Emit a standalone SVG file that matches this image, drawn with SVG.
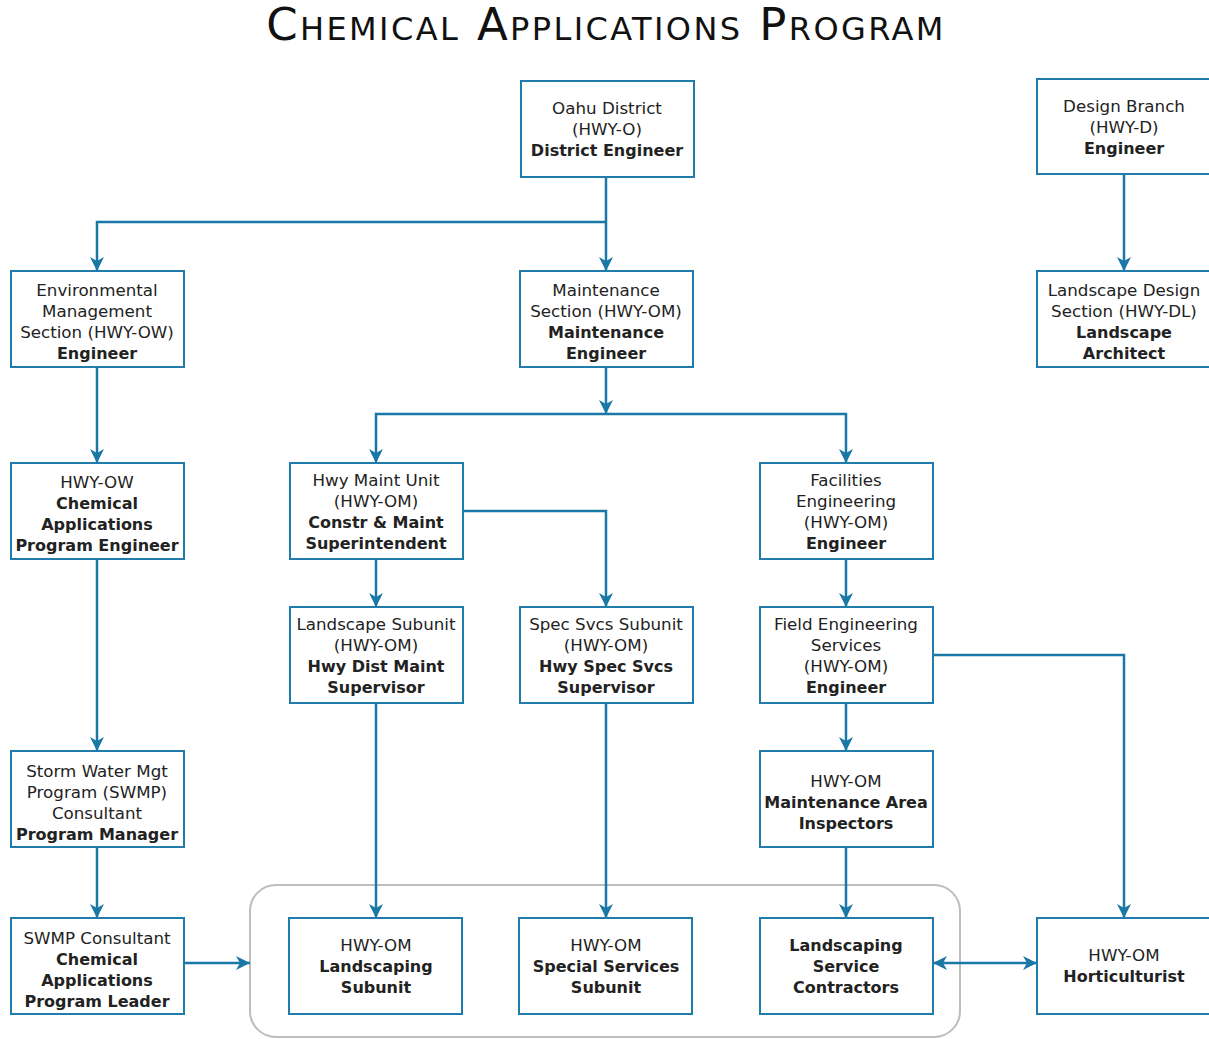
<svg xmlns="http://www.w3.org/2000/svg" width="1209" height="1039" viewBox="0 0 1209 1039">
<style>
.box{fill:#fff;stroke:#1f7cab;stroke-width:2}
.t{font-family:"DejaVu Sans","Liberation Sans",sans-serif;font-size:16.7px;fill:#222;text-anchor:middle}
.b{font-weight:bold;font-size:16px}
.c{fill:none;stroke:#1a78a6;stroke-width:2.5}
.grp{fill:none;stroke:#bdbdbd;stroke-width:2}
.title{font-family:"DejaVu Sans","Liberation Sans",sans-serif;font-size:45px;letter-spacing:2.4px;fill:#111;text-anchor:middle;font-variant:small-caps}
</style>
<defs>
<marker id="ar" viewBox="0 0 14 14" refX="14" refY="7" markerWidth="14" markerHeight="14" markerUnits="userSpaceOnUse" orient="auto-start-reverse">
<path d="M0,0 L14,7 L0,14 L4,7 Z" fill="#1a78a6"/>
</marker>
</defs>
<rect width="1209" height="1039" fill="#fff"/>
<text class="title" x="606" y="40">Chemical Applications Program</text>

<g id="group-subunits">
<rect class="grp" x="250" y="885" width="710" height="152" rx="26"/>
</g>

<g id="connectors">
<path class="c" d="M606,177 V271" marker-end="url(#ar)"/>
<path class="c" d="M606,222 H97 V271" marker-end="url(#ar)"/>
<path class="c" d="M1124,174 V271" marker-end="url(#ar)"/>
<path class="c" d="M97,367 V463" marker-end="url(#ar)"/>
<path class="c" d="M606,367 V414" marker-end="url(#ar)"/>
<path class="c" d="M606,414 H376 V463" marker-end="url(#ar)"/>
<path class="c" d="M606,414 H846 V463" marker-end="url(#ar)"/>
<path class="c" d="M463,511 H606 V607" marker-end="url(#ar)"/>
<path class="c" d="M376,559 V607" marker-end="url(#ar)"/>
<path class="c" d="M846,559 V607" marker-end="url(#ar)"/>
<path class="c" d="M846,703 V751" marker-end="url(#ar)"/>
<path class="c" d="M933,655 H1124 V918" marker-end="url(#ar)"/>
<path class="c" d="M97,559 V751" marker-end="url(#ar)"/>
<path class="c" d="M97,847 V918" marker-end="url(#ar)"/>
<path class="c" d="M184,963 H250" marker-end="url(#ar)"/>
<path class="c" d="M376,703 V918" marker-end="url(#ar)"/>
<path class="c" d="M606,703 V918" marker-end="url(#ar)"/>
<path class="c" d="M846,847 V918" marker-end="url(#ar)"/>
<path class="c" d="M933,963 H1037" marker-start="url(#ar)" marker-end="url(#ar)"/>
</g>

<g id="oahu">
<rect class="box" x="521" y="81" width="173" height="96"/>
<text class="t" x="607" y="114">Oahu District</text>
<text class="t" x="607" y="135">(HWY-O)</text>
<text class="t b" x="607" y="156">District Engineer</text>
</g>

<g id="design-branch">
<rect class="box" x="1037" y="79" width="173" height="95"/>
<text class="t" x="1124" y="112">Design Branch</text>
<text class="t" x="1124" y="133">(HWY-D)</text>
<text class="t b" x="1124" y="154">Engineer</text>
</g>

<g id="env-mgmt">
<rect class="box" x="11" y="271" width="173" height="96"/>
<text class="t" x="97" y="296">Environmental</text>
<text class="t" x="97" y="317">Management</text>
<text class="t" x="97" y="338">Section (HWY-OW)</text>
<text class="t b" x="97" y="359">Engineer</text>
</g>

<g id="maint-section">
<rect class="box" x="520" y="271" width="173" height="96"/>
<text class="t" x="606" y="296">Maintenance</text>
<text class="t" x="606" y="317">Section (HWY-OM)</text>
<text class="t b" x="606" y="338">Maintenance</text>
<text class="t b" x="606" y="359">Engineer</text>
</g>

<g id="landscape-design">
<rect class="box" x="1037" y="271" width="173" height="96"/>
<text class="t" x="1124" y="296">Landscape Design</text>
<text class="t" x="1124" y="317">Section (HWY-DL)</text>
<text class="t b" x="1124" y="338">Landscape</text>
<text class="t b" x="1124" y="359">Architect</text>
</g>

<g id="hwy-ow-cap">
<rect class="box" x="11" y="463" width="173" height="96"/>
<text class="t" x="97" y="488">HWY-OW</text>
<text class="t b" x="97" y="509">Chemical</text>
<text class="t b" x="97" y="530">Applications</text>
<text class="t b" x="97" y="551">Program Engineer</text>
</g>

<g id="hwy-maint-unit">
<rect class="box" x="290" y="463" width="173" height="96"/>
<text class="t" x="376" y="486">Hwy Maint Unit</text>
<text class="t" x="376" y="507">(HWY-OM)</text>
<text class="t b" x="376" y="528">Constr &amp; Maint</text>
<text class="t b" x="376" y="549">Superintendent</text>
</g>

<g id="facilities">
<rect class="box" x="760" y="463" width="173" height="96"/>
<text class="t" x="846" y="486">Facilities</text>
<text class="t" x="846" y="507">Engineering</text>
<text class="t" x="846" y="528">(HWY-OM)</text>
<text class="t b" x="846" y="549">Engineer</text>
</g>

<g id="landscape-subunit">
<rect class="box" x="290" y="607" width="173" height="96"/>
<text class="t" x="376" y="630">Landscape Subunit</text>
<text class="t" x="376" y="651">(HWY-OM)</text>
<text class="t b" x="376" y="672">Hwy Dist Maint</text>
<text class="t b" x="376" y="693">Supervisor</text>
</g>

<g id="spec-svcs-subunit">
<rect class="box" x="520" y="607" width="173" height="96"/>
<text class="t" x="606" y="630">Spec Svcs Subunit</text>
<text class="t" x="606" y="651">(HWY-OM)</text>
<text class="t b" x="606" y="672">Hwy Spec Svcs</text>
<text class="t b" x="606" y="693">Supervisor</text>
</g>

<g id="field-eng">
<rect class="box" x="760" y="607" width="173" height="96"/>
<text class="t" x="846" y="630">Field Engineering</text>
<text class="t" x="846" y="651">Services</text>
<text class="t" x="846" y="672">(HWY-OM)</text>
<text class="t b" x="846" y="693">Engineer</text>
</g>

<g id="storm-water">
<rect class="box" x="11" y="751" width="173" height="96"/>
<text class="t" x="97" y="777">Storm Water Mgt</text>
<text class="t" x="97" y="798">Program (SWMP)</text>
<text class="t" x="97" y="819">Consultant</text>
<text class="t b" x="97" y="840">Program Manager</text>
</g>

<g id="inspectors">
<rect class="box" x="760" y="751" width="173" height="96"/>
<text class="t" x="846" y="787">HWY-OM</text>
<text class="t b" x="846" y="808">Maintenance Area</text>
<text class="t b" x="846" y="829">Inspectors</text>
</g>

<g id="swmp-leader">
<rect class="box" x="11" y="918" width="173" height="96"/>
<text class="t" x="97" y="944">SWMP Consultant</text>
<text class="t b" x="97" y="965">Chemical</text>
<text class="t b" x="97" y="986">Applications</text>
<text class="t b" x="97" y="1007">Program Leader</text>
</g>

<g id="landscaping-subunit">
<rect class="box" x="289" y="918" width="173" height="96"/>
<text class="t" x="376" y="951">HWY-OM</text>
<text class="t b" x="376" y="972">Landscaping</text>
<text class="t b" x="376" y="993">Subunit</text>
</g>

<g id="special-services-subunit">
<rect class="box" x="519" y="918" width="173" height="96"/>
<text class="t" x="606" y="951">HWY-OM</text>
<text class="t b" x="606" y="972">Special Services</text>
<text class="t b" x="606" y="993">Subunit</text>
</g>

<g id="contractors">
<rect class="box" x="760" y="918" width="173" height="96"/>
<text class="t b" x="846" y="951">Landscaping</text>
<text class="t b" x="846" y="972">Service</text>
<text class="t b" x="846" y="993">Contractors</text>
</g>

<g id="horticulturist">
<rect class="box" x="1037" y="918" width="173" height="96"/>
<text class="t" x="1124" y="961">HWY-OM</text>
<text class="t b" x="1124" y="982">Horticulturist</text>
</g>
</svg>
